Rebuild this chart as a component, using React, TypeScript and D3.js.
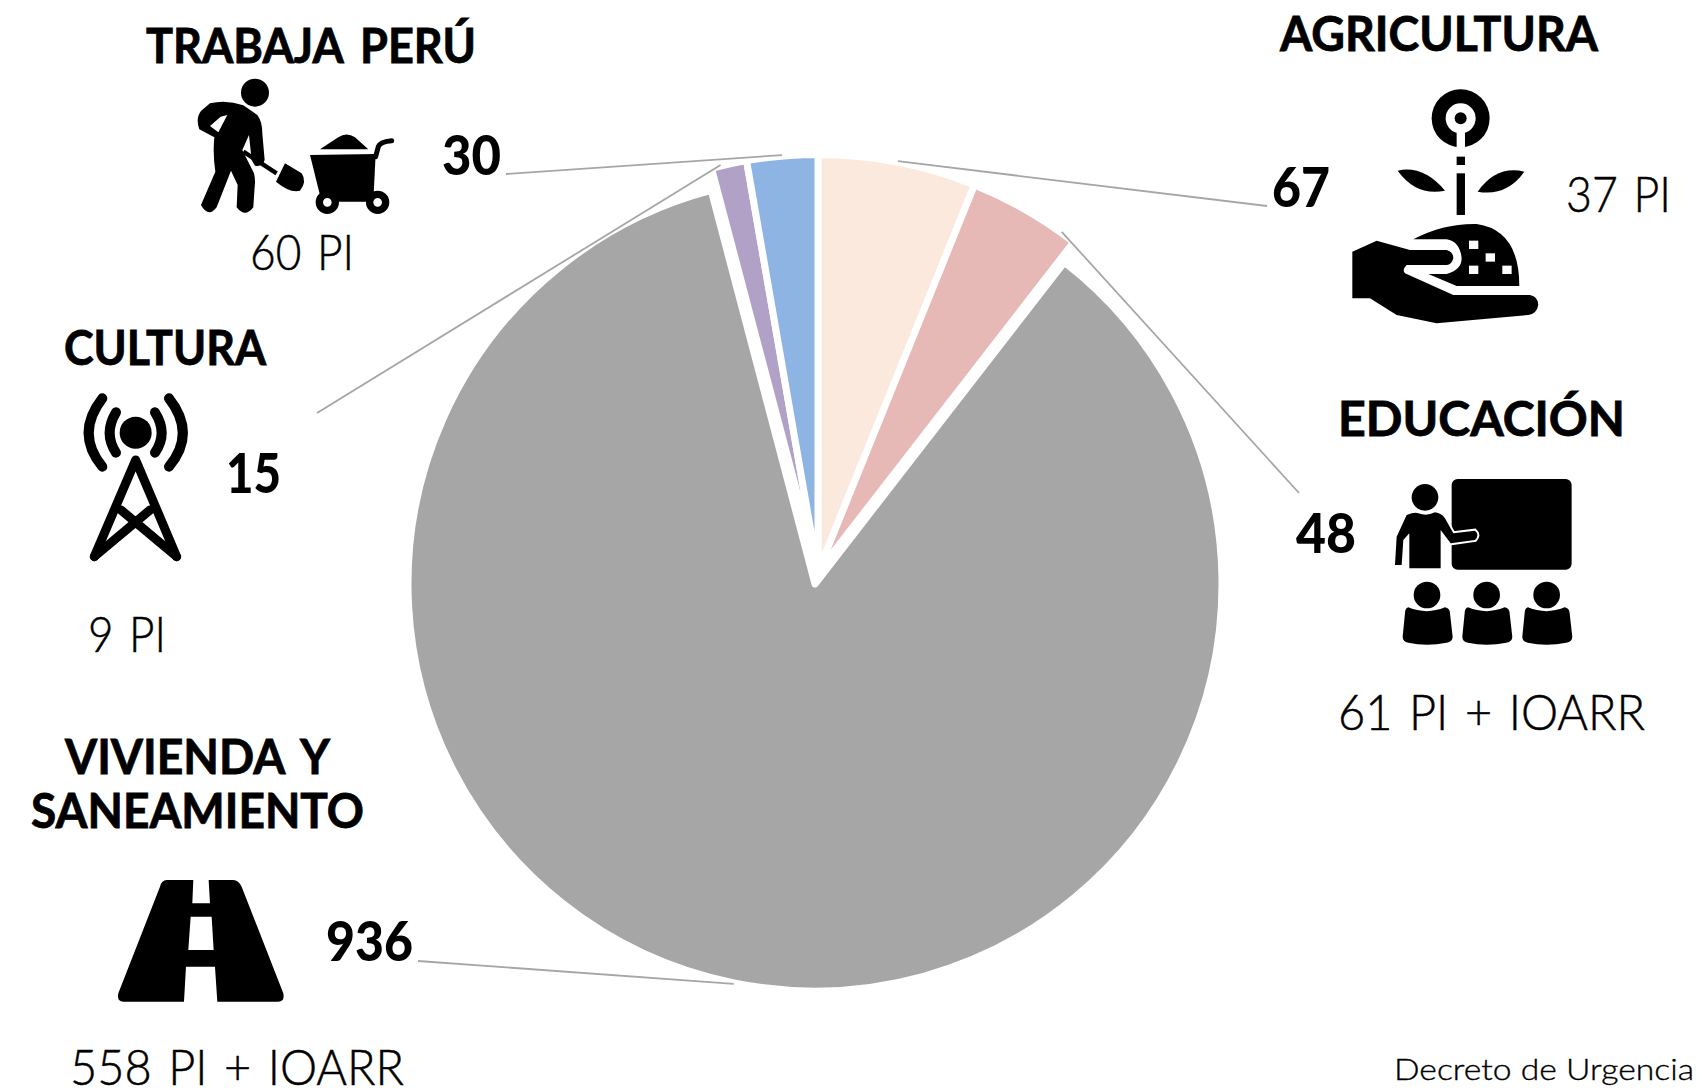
import React from "react";
import * as d3 from "d3";

// inversion por sector, en el orden del pie (horario desde las 12)
const sectors = ["AGRICULTURA", "EDUCACIÓN", "VIVIENDA Y SANEAMIENTO", "CULTURA", "TRABAJA PERÚ"];
const amounts = [67, 48, 936, 15, 30];
const projects = ["37 PI", "61 PI + IOARR", "558 PI + IOARR", "9 PI", "60 PI"];
const colors = ["#fce9dd", "#e6b8b6", "#a6a6a6", "#b2a1c7", "#8eb4e3"];
const footnote = "Decreto de Urgencia";

const width = 1702;
const height = 1090;
// la tajada gris esta separada del resto (explode) y tiene su propio centro
const topCenter = [818, 572];
const grayCenter = [815, 584];
const grayIndex = 2;
const topR = 417.5;
const grayR = 407;
const gap = 7;

// [x0, x1, baseline] de cada texto
const titlePos = [
  [[1280, 1598, 51]],
  [[1338, 1625, 436]],
  [[65, 330, 774], [31, 364, 828]],
  [[64, 266, 365]],
  [[146, 476, 63]],
];
const amountPos = [
  [1272, 1330, 207],
  [1296, 1356, 553],
  [326, 413, 961],
  [226, 281, 493],
  [442, 501, 175],
];
const projectPos = [
  [1566, 1671, 212],
  [1338, 1645, 730],
  [70, 404, 1085],
  [88, 166, 652],
  [250, 354, 270],
];
// punta exterior de cada linea guia
const leaderEnds = [
  [1267, 206],
  [1299, 493],
  [418, 961],
  [317, 413],
  [506, 174],
];
const leaderNudge = [0, 0.1, 0, -0.02, 0]; // no todas salen del medio de la tajada

const titleSplit = (s: string) => (s.startsWith("VIVIENDA") ? ["VIVIENDA Y", "SANEAMIENTO"] : [s]);

const Label = ({ pos, text, size, weight, bold = 0, wordGap = 0 }: any) => (
  <text
    x={pos[0]}
    y={pos[2]}
    textLength={pos[1] - pos[0]}
    lengthAdjust="spacingAndGlyphs"
    fontFamily="Lato, 'Open Sans', sans-serif"
    fontSize={size}
    fontWeight={weight}
    wordSpacing={wordGap}
    fill="#000"
    stroke="#000"
    strokeWidth={bold}
  >
    {text}
  </text>
);

// Iconos: coordenadas leidas a 3x, por eso el scale(1/3)
const WorkerIcon = () => (
  <g transform="translate(130,0) scale(0.3333)">
    <circle cx={375} cy={278} r={42} />
    <path
      fillRule="evenodd"
      d="M240 310Q290 298 340 316L382 345Q397 365 397 400L404 480Q397 502 375 497L365 480L357 405L337 450L372 520Q377 540 374 560L370 622Q345 655 320 622L323 555L303 512L260 622Q235 655 213 615L256 515Q248 460 253 412L208 388Q196 355 213 333ZM240 378L265 397L292 345L272 350Z"
    />
    <path d="M340 455L440 520" stroke="#000" strokeWidth={13} />
    <path d="M465 490L438 545Q480 580 510 572Q532 545 515 520Z" />
    <path d="M570 448L625 412Q650 395 675 412L715 448Z" />
    <path d="M540 465L737 462L730 605L575 605Z" />
    <path d="M737 470L745 440Q750 425 785 422" fill="none" stroke="#000" strokeWidth={15} strokeLinecap="round" />
    <circle cx={592} cy={607} r={24} fill="#fff" stroke="#000" strokeWidth={22} />
    <circle cx={743} cy={607} r={24} fill="#fff" stroke="#000" strokeWidth={22} />
  </g>
);

const PlantIcon = () => (
  <g transform="translate(1250,0) scale(0.3333)">
    <circle cx={632} cy={355} r={87} />
    <circle cx={632} cy={355} r={45} fill="#fff" />
    <rect x={620} y={390} width={25} height={55} fill="#fff" />
    <circle cx={632} cy={355} r={18} />
    <rect x={620} y={470} width={25} height={25} />
    <rect x={620} y={520} width={25} height={125} />
    <path d="M443 512Q520 495 585 572Q500 590 443 512Z" />
    <path d="M823 515Q740 495 683 575Q770 590 823 515Z" />
    <path d="M490 718Q580 670 680 672Q808 690 808 858L620 858L535 822L590 822Q635 810 635 775Q630 725 590 718Z" />
    <g fill="#fff">
      <rect x={657} y={722} width={28} height={25} />
      <rect x={707} y={760} width={28} height={25} />
      <rect x={657} y={797} width={28} height={25} />
      <rect x={757} y={797} width={28} height={25} />
    </g>
    <path d="M307 755L380 722L480 750L590 750Q610 755 610 775Q605 795 590 795L470 795Q455 810 465 820L610 885L840 885Q865 890 865 915Q860 942 835 945L560 970L440 945L360 895L307 895Z" />
  </g>
);

const TowerIcon = () => (
  <g transform="translate(40,320) scale(0.3333)" fill="none" stroke="#000" strokeLinecap="round" strokeLinejoin="round">
    <circle cx={287} cy={338} r={48} fill="#000" stroke="none" />
    <g strokeWidth={30}>
      <path d="M228 277Q190 340 228 398" />
      <path d="M345 277Q385 340 345 398" />
      <path d="M187 235Q105 340 187 440" />
      <path d="M387 235Q470 340 387 440" />
    </g>
    <g strokeWidth={27}>
      <path d="M163 710L287 420L410 710" />
      <path d="M163 710L330 570" />
      <path d="M410 710L243 570" />
    </g>
  </g>
);

const TeacherIcon = () => (
  <g transform="translate(1280,380) scale(0.3333)">
    <rect x={515} y={297} width={360} height={272} rx={18} />
    <circle cx={435} cy={352} r={40} />
    <path
      stroke="#fff"
      strokeWidth={12}
      paintOrder="stroke"
      d="M380 405Q405 395 415 400Q440 410 465 397Q485 400 495 415L520 460L585 452Q600 465 585 480L512 490L482 450L482 565L388 565L388 460L370 480L365 555L345 555L350 470Z"
    />
    {[0, 179, 359].map((dx) => (
      <g key={dx} transform={`translate(${dx},0)`}>
        <circle cx={441} cy={645} r={40} />
        <path d="M385 682Q440 705 495 682Q510 685 510 700L518 770Q518 785 500 788Q440 800 385 788Q368 785 368 770L375 700Q375 685 385 682Z" />
      </g>
    ))}
  </g>
);

const RoadIcon = () => (
  <g transform="translate(20,720) scale(0.3333)">
    <path
      fillRule="evenodd"
      d="M440 480L520 480L517 550L570 550L566 480L640 480Q655 480 665 500L790 820Q795 845 775 845L592 845L585 740L498 740L492 845L310 845Q290 845 295 820L420 500Q425 480 440 480ZM512 590L575 590L581 690L505 690Z"
    />
  </g>
);

const App = () => {
  const pie = d3
    .pie<number>()
    .sort(null)
    .value((d) => d);
  const arcs = pie(amounts);
  const centerOf = (i: number) => (i === grayIndex ? grayCenter : topCenter);
  const radiusOf = (i: number) => (i === grayIndex ? grayR : topR);
  const arc = d3.arc<any>().innerRadius(0);

  return (
    <svg width={width} height={height} style={{ position: "absolute", left: 0, top: 0, background: "#fff" }}>
      {arcs.map((d, i) => (
        <path
          key={sectors[i]}
          transform={`translate(${centerOf(i)[0]},${centerOf(i)[1]})`}
          d={arc.outerRadius(radiusOf(i))(d) as string}
          fill={colors[i]}
          stroke="#fff"
          strokeWidth={gap}
          strokeLinejoin="round"
        />
      ))}
      {arcs.map((d, i) => {
        const a = (d.startAngle + d.endAngle) / 2 + leaderNudge[i];
        const [px, py] = d3.pointRadial(a, radiusOf(i) + 1);
        return (
          <line
            key={sectors[i]}
            x1={centerOf(i)[0] + px}
            y1={centerOf(i)[1] + py}
            x2={leaderEnds[i][0]}
            y2={leaderEnds[i][1]}
            stroke="#a6a6a6"
            strokeWidth={1.8}
          />
        );
      })}
      {sectors.map((s, i) => (
        <g key={s}>
          {titleSplit(s).map((line, j) => (
            <Label key={line} pos={titlePos[i][j]} text={line} size={47} weight={700} bold={0.8} wordGap={7} />
          ))}
          <Label pos={amountPos[i]} text={String(amounts[i])} size={55} weight={900} />
          <Label pos={projectPos[i]} text={projects[i]} size={49} weight={300} bold={0.5} wordGap={4} />
        </g>
      ))}
      <Label pos={[1394, 1694, 1080]} text={footnote} size={29} weight={300} bold={0.35} />
      <WorkerIcon />
      <PlantIcon />
      <TowerIcon />
      <TeacherIcon />
      <RoadIcon />
    </svg>
  );
};

export default App;
